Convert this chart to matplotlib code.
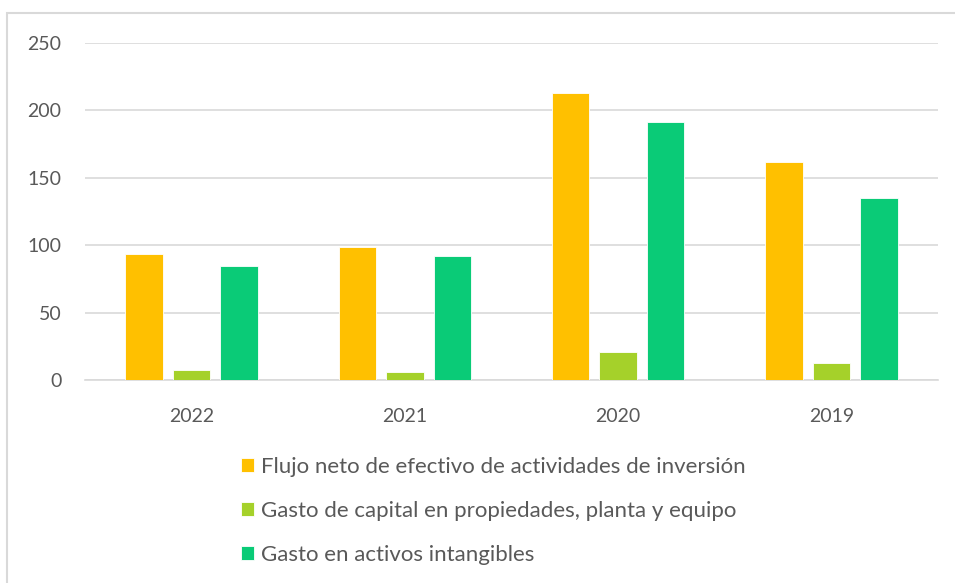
"""
Inversiones por año: flujo neto, capex y activos intangibles
"""

import numpy as np
import matplotlib.pyplot as plt
from matplotlib.patches import Rectangle

#---------------------------------------------------------------------------------------------------
# Datos
#---------------------------------------------------------------------------------------------------

years = ['2022', '2021', '2020', '2019']
flujo_neto = [93.5, 98.7, 213, 161.7]
capex = [7.4, 5.9, 20.8, 12.6]
intangibles = [84.6, 92, 191.4, 135]

labels = ['Flujo neto de efectivo de actividades de inversión',
          'Gasto de capital en propiedades, planta y equipo',
          'Gasto en activos intangibles']
colors = ['#FFC000', '#A5D12A', '#0ACB77']

#---------------------------------------------------------------------------------------------------
# Figura
#---------------------------------------------------------------------------------------------------

plt.rcParams['font.family'] = ['Lato', 'DejaVu Sans']
txt_col = '#595959'

W, H = 955, 583
fig = plt.figure(figsize=(W / 100, H / 100), dpi=100)

# outer chart frame
fig.patches.append(Rectangle((7 / W, -0.1), 1.2, 1 - 13 / H + 0.1, transform=fig.transFigure,
                             fill=False, edgecolor='#D9D9D9', lw=1.5))

ax = fig.add_axes([85 / W, 1 - 380 / H, (938 - 85) / W, (380 - 43) / H])

x = np.arange(len(years))
w = 0.176
off = 0.223
for i, (vals, lab, c) in enumerate(zip([flujo_neto, capex, intangibles], labels, colors)):
    ax.bar(x + (i - 1) * off, vals, width=w, color=c, edgecolor='white', lw=0.6,
           label=lab, zorder=3)

ax.set_xlim(-0.5, len(years) - 0.5)
ax.set_ylim(0, 250)
ax.set_yticks(np.arange(0, 251, 50))
ax.set_xticks(x)
ax.set_xticklabels(years)
ax.grid(axis='y', color='#D9D9D9', lw=1.2, zorder=0)
for s in ['top', 'right', 'left']:
    ax.spines[s].set_visible(False)
ax.spines['bottom'].set_color('#D9D9D9')
ax.spines['bottom'].set_linewidth(1.2)
ax.tick_params(axis='both', length=0, colors=txt_col, labelsize=14)
ax.tick_params(axis='y', pad=17)
ax.tick_params(axis='x', pad=20)
for t in ax.get_yticklabels():
    t.set_horizontalalignment('right')

leg = fig.legend(loc='upper left', bbox_to_anchor=(232 / W, 1 - 448 / H), frameon=False,
                 fontsize=16, labelcolor=txt_col, handlelength=0.6, handleheight=0.6,
                 handletextpad=0.3, labelspacing=1.08, borderaxespad=0)

plt.savefig('out.png', dpi=100)
